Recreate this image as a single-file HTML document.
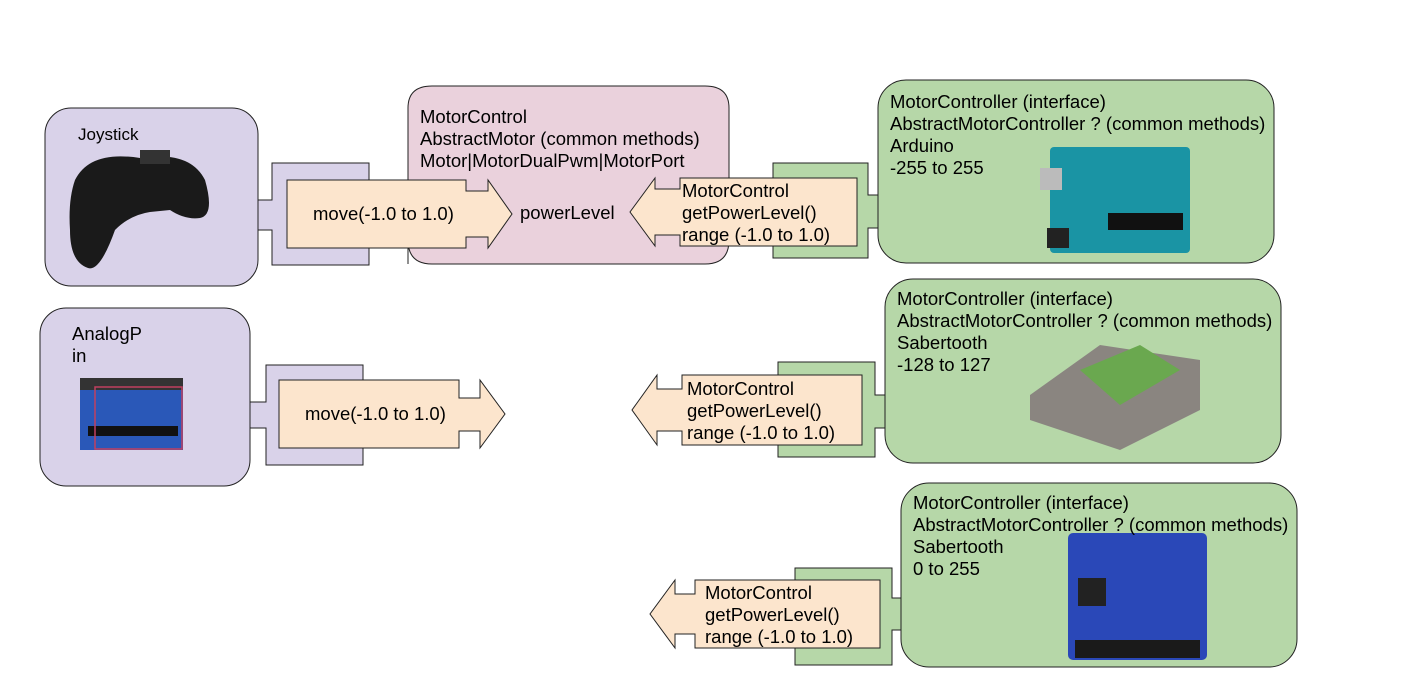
<!DOCTYPE html>
<html><head><meta charset="utf-8"><style>
html,body{margin:0;padding:0;background:#fff;}
svg{display:block;}
text{font-family:"Liberation Sans",Arial,sans-serif;font-size:18.5px;fill:#000;}
</style></head><body>
<svg width="1417" height="678" viewBox="0 0 1417 678" xmlns="http://www.w3.org/2000/svg">
<g stroke="#222" stroke-width="1">
<rect x="45" y="108" width="213" height="178" rx="26" fill="#d9d2e9"/>
<path d="M258,200 H272 V163 H369 V265 H272 V230 H258 Z" fill="#d9d2e9"/>
<path d="M408,264 V108 Q408,86 432,86 H705 Q729,86 729,108 V240 Q729,264 705,264 H432 Q408,264 408,240 Z" fill="#ead1dc"/>
<path d="M287,180 H466 V191 H488 V180 L512,214 L488,248 V237 H466 V248 H287 Z" fill="#fce5cd"/>
<path d="M868,195 H878 V228 H868 V258 H773 V163 H868 Z" fill="#b6d7a8"/>
<rect x="878" y="80" width="396" height="183" rx="28" fill="#b6d7a8"/>
<path d="M857,178 H680 V189 H655 V178 L630,212 L655,246 V235 H680 V246 H857 Z" fill="#fce5cd"/>
<rect x="40" y="308" width="210" height="178" rx="26" fill="#d9d2e9"/>
<path d="M250,402 H266 V365 H363 V465 H266 V428 H250 Z" fill="#d9d2e9"/>
<path d="M279,380 H459 V398 H480 V380 L505,414 L480,448 V431 H459 V448 H279 Z" fill="#fce5cd"/>
<path d="M875,395 H885 V428 H875 V457 H778 V362 H875 Z" fill="#b6d7a8"/>
<rect x="885" y="279" width="396" height="184" rx="28" fill="#b6d7a8"/>
<path d="M862,375 H682 V389 H657 V375 L632,410 L657,445 V431 H682 V445 H862 Z" fill="#fce5cd"/>
<path d="M892,598 H901 V630 H892 V665 H795 V568 H892 Z" fill="#b6d7a8"/>
<rect x="901" y="483" width="396" height="184" rx="28" fill="#b6d7a8"/>
<path d="M880,580 H695 V594 H675 V580 L650,614 L675,648 V634 H695 V648 H880 Z" fill="#fce5cd"/>
</g>
<path d="M75,180 Q90,150 140,158 Q190,150 205,180 Q215,215 200,218 Q185,220 170,210 L150,212 Q130,215 115,230 Q100,272 88,268 Q70,262 70,230 Q68,200 75,180 Z" fill="#1a1a1a"/>
<rect x="140" y="150" width="30" height="14" fill="#333"/>
<rect x="80" y="378" width="103" height="72" fill="#2a58b8"/>
<rect x="80" y="378" width="103" height="12" fill="#333"/>
<rect x="88" y="426" width="90" height="10" fill="#111"/>
<rect x="95" y="387" width="87" height="62" fill="none" stroke="#c04060" stroke-width="1.5"/>
<rect x="1050" y="147" width="140" height="106" rx="4" fill="#1a94a4"/>
<rect x="1040" y="168" width="22" height="22" fill="#bbb"/>
<rect x="1108" y="213" width="75" height="17" fill="#111"/>
<rect x="1047" y="228" width="22" height="20" fill="#222"/>
<path d="M1030,395 L1100,345 L1200,360 L1200,410 L1120,450 L1030,420 Z" fill="#8a8580"/>
<path d="M1080,370 L1140,345 L1180,370 L1120,405 Z" fill="#6aa84f"/>
<rect x="1068" y="533" width="139" height="127" rx="5" fill="#2a48b8"/>
<rect x="1078" y="578" width="28" height="28" fill="#222"/>
<rect x="1075" y="640" width="125" height="18" fill="#1a1a1a"/>
<text x="78" y="140" style="font-size:17px">Joystick</text>
<text x="420" y="123">MotorControl</text>
<text x="420" y="145">AbstractMotor (common methods)</text>
<text x="420" y="167">Motor|MotorDualPwm|MotorPort</text>
<text x="520" y="219">powerLevel</text>
<text x="313" y="220">move(-1.0 to 1.0)</text>
<text x="682" y="197">MotorControl</text>
<text x="682" y="219">getPowerLevel()</text>
<text x="682" y="241">range (-1.0 to 1.0)</text>
<text x="890" y="108">MotorController (interface)</text>
<text x="890" y="130">AbstractMotorController ? (common methods)</text>
<text x="890" y="152">Arduino</text>
<text x="890" y="174">-255 to 255</text>
<text x="72" y="340">AnalogP</text>
<text x="72" y="362">in</text>
<text x="305" y="420">move(-1.0 to 1.0)</text>
<text x="687" y="395">MotorControl</text>
<text x="687" y="417">getPowerLevel()</text>
<text x="687" y="439">range (-1.0 to 1.0)</text>
<text x="897" y="305">MotorController (interface)</text>
<text x="897" y="327">AbstractMotorController ? (common methods)</text>
<text x="897" y="349">Sabertooth</text>
<text x="897" y="371">-128 to 127</text>
<text x="705" y="599">MotorControl</text>
<text x="705" y="621">getPowerLevel()</text>
<text x="705" y="643">range (-1.0 to 1.0)</text>
<text x="913" y="509">MotorController (interface)</text>
<text x="913" y="531">AbstractMotorController ? (common methods)</text>
<text x="913" y="553">Sabertooth</text>
<text x="913" y="575">0 to 255</text>
</svg>
</body></html>
